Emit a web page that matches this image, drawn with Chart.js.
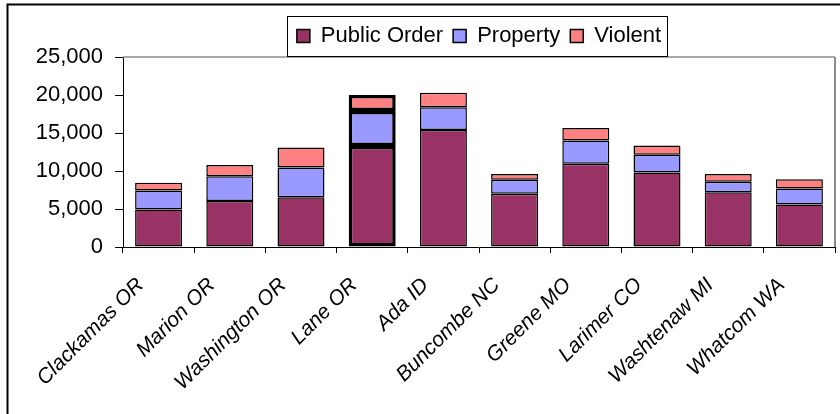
<!DOCTYPE html>
<html>
<head>
<meta charset="utf-8">
<title>Cases by county</title>
<script src="https://cdn.jsdelivr.net/npm/chart.js@4.4.1/dist/chart.umd.min.js"></script>
<style>
  html, body { margin: 0; padding: 0; background: #fff; }
  canvas { display: block; }
</style>
</head>
<body>
<canvas id="chart" width="840" height="414"></canvas>
<script>
const counties = ["Clackamas OR", "Marion OR", "Washington OR", "Lane OR", "Ada ID",
  "Buncombe NC", "Greene MO", "Larimer CO", "Washtenaw MI", "Whatcom WA"];
const publicOrder = [4950, 6050, 6550, 13300, 15400, 7000, 10950, 9800, 7200, 5600];
const property = [2500, 3250, 3900, 4600, 3000, 1850, 3050, 2350, 1400, 2100];
const violent = [1000, 1500, 2650, 2100, 1900, 750, 1650, 1200, 1000, 1200];
const yTicks = [0, 5000, 10000, 15000, 20000, 25000];

const FONT = "'Liberation Sans', Arial, sans-serif";
const highlighted = 3; // Lane OR gets the heavy outline

// the thick bar outline only for the highlighted county
const outline = (ctx) => (ctx.dataIndex === highlighted ? 3.5 : 1.5);

// outer frame, plot-area edges and the boxed legend
const framePlugin = {
  id: "frame",
  afterDraw(chart) {
    const { ctx, chartArea, legend } = chart;
    ctx.save();
    ctx.strokeStyle = "#000";
    ctx.lineWidth = 2;
    ctx.beginPath();
    ctx.moveTo(7.5, 414);
    ctx.lineTo(7.5, 4.5);
    ctx.lineTo(840, 4.5);
    ctx.stroke();

    ctx.strokeStyle = "#8c8c8c";
    ctx.lineWidth = 1.5;
    ctx.beginPath();
    ctx.moveTo(chartArea.left, chartArea.top);
    ctx.lineTo(chartArea.right, chartArea.top);
    ctx.stroke();
    ctx.lineWidth = 2;
    ctx.beginPath();
    ctx.moveTo(chartArea.right, chartArea.top);
    ctx.lineTo(chartArea.right, chartArea.bottom);
    ctx.stroke();

    const boxes = legend.legendHitBoxes;
    if (boxes && boxes.length) {
      const first = boxes[0];
      const last = boxes[boxes.length - 1];
      const x0 = Math.round(first.left - 10) + 0.5;
      const x1 = Math.round(last.left + last.width + 6) + 0.5;
      ctx.strokeStyle = "#000";
      ctx.lineWidth = 1;
      ctx.strokeRect(x0, Math.round(legend.top + 1) + 0.5, x1 - x0, 40);
    }
    ctx.restore();
  }
};

const chart = new Chart(document.getElementById("chart").getContext("2d"), {
  type: "bar",
  data: {
    labels: counties,
    datasets: [
      { label: "Public Order", data: publicOrder, backgroundColor: "#993366" },
      { label: "Property", data: property, backgroundColor: "#9999ff" },
      { label: "Violent", data: violent, backgroundColor: "#ff8080" }
    ]
  },
  options: {
    responsive: false,
    animation: false,
    layout: { padding: { top: 8.5, right: 5, bottom: 0, left: 0 } },
    datasets: {
      bar: {
        borderColor: "#000",
        borderWidth: outline,
        borderSkipped: false,
        categoryPercentage: 1,
        barPercentage: 0.66
      }
    },
    plugins: {
      tooltip: { enabled: false },
      legend: {
        position: "top",
        fullSize: false,
        labels: {
          boxWidth: 13,
          boxHeight: 13,
          padding: 10,
          color: "#000",
          font: { family: FONT, size: 22 }
        }
      }
    },
    scales: {
      x: {
        stacked: true,
        offset: true,
        grid: {
          offset: true,
          drawOnChartArea: false,
          tickLength: 6,
          color: "#000"
        },
        border: { color: "#000", width: 1 },
        ticks: {
          autoSkip: false,
          minRotation: 45,
          maxRotation: 45,
          padding: 20,
          labelOffset: -18,
          color: "#000",
          font: { family: FONT, size: 21, style: "italic" }
        },
        afterFit: (scale) => {
          scale.height = 167;
        }
      },
      y: {
        stacked: true,
        min: 0,
        max: 25000,
        grid: {
          drawOnChartArea: false,
          tickLength: 8,
          color: "#000"
        },
        border: { color: "#000", width: 1 },
        afterBuildTicks: (scale) => {
          scale.ticks = yTicks.map((v) => ({ value: v }));
        },
        ticks: {
          padding: 12,
          color: "#000",
          font: { family: FONT, size: 22 }
        },
        afterFit: (scale) => {
          scale.width = 123;
          scale.paddingTop = 57; // keeps the plot top clear of the legend
        }
      }
    }
  },
  plugins: [framePlugin]
});
</script>
</body>
</html>
